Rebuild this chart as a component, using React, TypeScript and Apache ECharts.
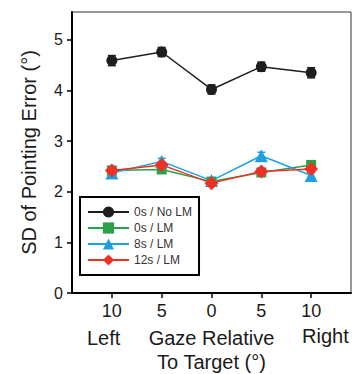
import React, { useEffect, useRef } from "react";
import * as echarts from "echarts";

const gazeX = [-10, -5, 0, 5, 10];
const xTicks = [-10, -5, 0, 5, 10];
const yTicks = [0, 1, 2, 3, 4, 5];
const noLm0s = [4.59, 4.76, 4.02, 4.47, 4.35];
const noLm0sErr = [0.1, 0.09, 0.09, 0.09, 0.1];
const lm0s = [2.42, 2.44, 2.2, 2.38, 2.53];
const lm0sErr = [0.07, 0.06, 0.06, 0.06, 0.07];
const lm8s = [2.37, 2.6, 2.22, 2.71, 2.32];
const lm8sErr = [0.06, 0.06, 0.06, 0.07, 0.06];
const lm12s = [2.42, 2.53, 2.17, 2.4, 2.45];
const lm12sErr = [0.06, 0.06, 0.05, 0.06, 0.07];

const FONT = "Liberation Sans, Arial, sans-serif";

export default function App() {
  const ref = useRef<HTMLDivElement>(null);
  useEffect(() => {
    document.body.style.margin = "0";
    if (!ref.current) return;
    const chart = echarts.init(ref.current, undefined, { renderer: "svg" });
    const defs = [
      { name: "0s / No LM", vals: noLm0s, err: noLm0sErr, color: "#1e1e1e", symbol: "circle", size: 11 },
      { name: "0s / LM", vals: lm0s, err: lm0sErr, color: "#2aa048", symbol: "rect", size: 10 },
      { name: "8s / LM", vals: lm8s, err: lm8sErr, color: "#1ba1e2", symbol: "triangle", size: 13 },
      { name: "12s / LM", vals: lm12s, err: lm12sErr, color: "#ee3124", symbol: "diamond", size: 14 },
    ];
    const series: any[] = [];
    defs.forEach((d) => {
      series.push({
        type: "custom",
        name: d.name + " err",
        data: gazeX.map((x, i) => [x, d.vals[i] - d.err[i], d.vals[i] + d.err[i]]),
        renderItem: (params: any, api: any) => {
          const p1 = api.coord([api.value(0), api.value(1)]);
          const p2 = api.coord([api.value(0), api.value(2)]);
          const w = 4;
          const st = { stroke: d.color, lineWidth: 1.5 };
          return {
            type: "group",
            children: [
              { type: "line", shape: { x1: p1[0], y1: p1[1], x2: p2[0], y2: p2[1] }, style: st },
              { type: "line", shape: { x1: p1[0] - w, y1: p1[1], x2: p1[0] + w, y2: p1[1] }, style: st },
              { type: "line", shape: { x1: p2[0] - w, y1: p2[1], x2: p2[0] + w, y2: p2[1] }, style: st },
            ],
          };
        },
        z: 2,
      });
      series.push({
        type: "line",
        name: d.name,
        data: gazeX.map((x, i) => [x, d.vals[i]]),
        symbol: d.symbol,
        symbolSize: d.size,
        showAllSymbol: true,
        lineStyle: { color: d.color, width: 1.5 },
        itemStyle: { color: d.color },
        z: 3,
      });
    });
    chart.setOption({
      animation: false,
      grid: {
        left: 72,
        right: 4,
        top: 12,
        bottom: 81,
        show: true,
        borderColor: "#333",
        borderWidth: 1,
        backgroundColor: "transparent",
        outerBoundsMode: "none",
        containLabel: false,
      },
      xAxis: {
        type: "value",
        min: -14,
        max: 14,
        name: "Gaze Relative\nTo Target (°)",
        nameLocation: "middle",
        nameGap: 33,
        nameTextStyle: { fontSize: 20, fontFamily: FONT, color: "#1a1a1a", lineHeight: 24 },
        axisLine: { onZero: false, lineStyle: { color: "#000", width: 2 } },
        axisTick: { show: true, length: 5, customValues: xTicks, lineStyle: { color: "#000", width: 1.5 } },
        axisLabel: {
          customValues: xTicks,
          formatter: (v: number) => String(Math.abs(v)),
          fontSize: 18,
          fontFamily: FONT,
          color: "#1a1a1a",
          margin: 9,
        },
        splitLine: { show: false },
      },
      yAxis: {
        type: "value",
        min: 0,
        max: 5.55,
        name: "SD of Pointing Error (°)",
        nameLocation: "middle",
        nameGap: 33,
        nameTextStyle: { fontSize: 20, fontFamily: FONT, color: "#1a1a1a" },
        axisLine: { show: true, onZero: false, lineStyle: { color: "#000", width: 2 } },
        axisTick: { show: true, length: 5, customValues: yTicks, lineStyle: { color: "#000", width: 1.5 } },
        axisLabel: { customValues: yTicks, fontSize: 16, fontFamily: FONT, color: "#1a1a1a", margin: 9 },
        splitLine: { show: false },
      },
      legend: {
        data: defs.map((d) => d.name),
        orient: "vertical",
        left: 80,
        top: 197,
        width: 122,
        borderColor: "#000",
        borderWidth: 2,
        padding: [9, 7, 9, 7],
        itemWidth: 41,
        itemHeight: 14,
        itemGap: 4,
        textStyle: { fontSize: 12, fontFamily: FONT, color: "#333" },
        backgroundColor: "#fff",
      },
      graphic: [
        {
          type: "text",
          left: 87,
          top: 328,
          style: { text: "Left", fontSize: 20, fontFamily: FONT, fill: "#1a1a1a" },
        },
        {
          type: "text",
          left: 302,
          top: 326,
          style: { text: "Right", fontSize: 20, fontFamily: FONT, fill: "#1a1a1a" },
        },
      ],
      series,
    });
    return () => chart.dispose();
  }, []);
  return <div ref={ref} style={{ width: 355, height: 374 }} />;
}
